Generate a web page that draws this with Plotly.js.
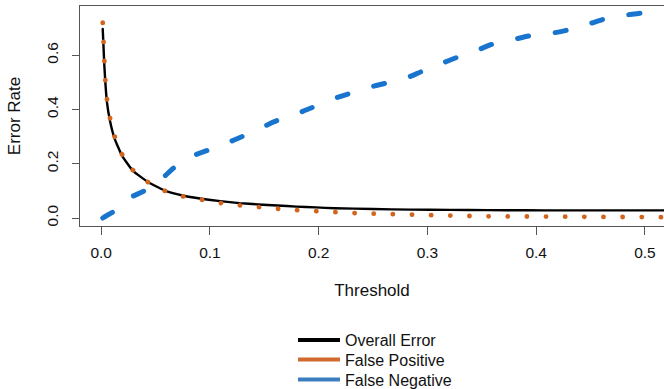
<!DOCTYPE html>
<html><head><meta charset="utf-8">
<script src="https://cdn.plot.ly/plotly-3.0.1.min.js"></script>
<style>
html,body{margin:0;padding:0;background:#fff;}
#chart{width:664px;height:389px;}
.scatterlayer .js-line{stroke-linecap:round;}
</style></head><body><div id="chart"></div>
<script>
// False positive rate (orange dotted)
const fpThreshold = [0.0014,0.0017,0.0029,0.0038,0.0053,0.0081,0.0124,0.0191,0.0290,0.0428,0.0580,0.0749,0.0920,0.1095,0.1270,0.1444,0.1619,0.1794,0.1972,0.2147,0.2322,0.2499,0.2674,0.2848,0.3023,0.3201,0.3379,0.3554,0.3728,0.3903,0.4081,0.4255,0.4430,0.4607,0.4782,0.4960,0.5135,0.5300];
const fpRate = [0.7201,0.6490,0.5789,0.5088,0.4388,0.3687,0.2998,0.2349,0.1770,0.1327,0.1007,0.0800,0.0664,0.0553,0.0468,0.0395,0.0343,0.0295,0.0247,0.0221,0.0184,0.0159,0.0136,0.0111,0.0100,0.0085,0.0074,0.0063,0.0055,0.0048,0.0037,0.0037,0.0037,0.0026,0.0026,0.0026,0.0026,0.0026];
// Overall error (black solid)
const overallThreshold = [0.0014,0.0029,0.0053,0.0081,0.0124,0.0191,0.0290,0.0428,0.0580,0.0749,0.0920,0.1095,0.1270,0.1444,0.1619,0.1794,0.1972,0.2147,0.2499,0.2848,0.3201,0.3554,0.3903,0.4255,0.4607,0.4960,0.5300];
const overallError = [0.697,0.561,0.426,0.358,0.292,0.230,0.175,0.133,0.102,0.083,0.071,0.062,0.055,0.050,0.046,0.042,0.039,0.036,0.033,0.031,0.030,0.029,0.0285,0.028,0.028,0.028,0.028];
// False negative rate (blue dashed)
const fnThreshold = [0.0014,0.0044,0.0111,0.0271,0.0394,0.0562,0.0663,0.0838,0.0970,0.1163,0.1292,0.1490,0.1614,0.1807,0.1935,0.2122,0.2269,0.2465,0.2612,0.2803,0.2943,0.3134,0.3274,0.3462,0.3602,0.3798,0.3945,0.4142,0.4289,0.4482,0.4629,0.4825,0.4972,0.5165];
const fnRate = [0.000,0.0074,0.0232,0.0763,0.0996,0.1464,0.1833,0.2286,0.2482,0.2777,0.2998,0.3366,0.3588,0.3861,0.4067,0.4377,0.4572,0.4819,0.4967,0.5162,0.5395,0.5704,0.5926,0.6195,0.6416,0.6589,0.6722,0.6811,0.6932,0.7153,0.7338,0.7485,0.7566,0.7790];

const seriesNames = ['Overall Error','False Positive','False Negative'];
const xTickVals = [0,0.1,0.2,0.3,0.4,0.5];
const xTickText = ['0.0','0.1','0.2','0.3','0.4','0.5'];
const yTickVals = [0,0.2,0.4,0.6];
const yTickText = ['0.0','0.2','0.4','0.6'];

const FONT = 'Liberation Sans, Arial, Helvetica, sans-serif';
const cBlack = '#000000', cOrange = '#D2651E', cBlue = '#1874CD';

const traces = [
  {x: overallThreshold, y: overallError, mode:'lines', name: seriesNames[0], showlegend:false,
   line:{color:cBlack, width:2.4, shape:'spline', smoothing:0.4}},
  {x: fnThreshold, y: fnRate, mode:'lines', name: seriesNames[2], showlegend:false,
   line:{color:cBlue, width:5, dash:'11px,27px', shape:'spline', smoothing:0.6}},
  {x: fpThreshold, y: fpRate, mode:'lines', name: seriesNames[1], showlegend:false,
   line:{color:cOrange, width:4.8, dash:'0.1px,19.05px'}},
  // legend keys, one legend per row
  {x:[null], y:[null], mode:'lines', name: seriesNames[0], legend:'legend', line:{color:'#000000', width:4}},
  {x:[null], y:[null], mode:'lines', name: seriesNames[1], legend:'legend2', line:{color:'#D06A2E', width:4}},
  {x:[null], y:[null], mode:'lines', name: seriesNames[2], legend:'legend3', line:{color:'#3B7EC0', width:4}}
];

const axisCommon = {
  showgrid:false, zeroline:false, showline:true, linecolor:'#555', linewidth:1,
  ticks:'outside', tickcolor:'#555', tickwidth:1, automargin:true,
  tickfont:{family:FONT, size:15.5, color:'#111'}, fixedrange:true
};

function legendAt(yPix){
  return {orientation:'h', xref:'container', yref:'container', x:293/664, xanchor:'left',
    y:1-yPix/389, yanchor:'middle', itemwidth:42, font:{family:FONT, size:16, color:'#111'},
    bgcolor:'rgba(0,0,0,0)', borderwidth:0};
}

const layout = {
  width:664, height:389,
  margin:{l:80, r:0, t:6, b:163, pad:0},
  paper_bgcolor:'#fff', plot_bgcolor:'#fff',
  font:{family:FONT, color:'#111'},
  xaxis: Object.assign({}, axisCommon, {
    range:[-0.0195, 0.5175], tickvals:xTickVals, ticktext:xTickText, ticklen:8,
    mirror:true, ticklabelstandoff:4,
    title:{text:'Threshold', font:{family:FONT, size:17, color:'#111'}, standoff:24}
  }),
  yaxis: Object.assign({}, axisCommon, {
    range:[-0.0295, 0.7817], tickvals:yTickVals, ticktext:yTickText, ticklen:7,
    tickangle:-90, mirror:false, ticklabelstandoff:8,
    title:{text:'Error Rate', font:{family:FONT, size:17, color:'#111'}, standoff:18}
  }),
  showlegend:true,
  legend: legendAt(340),
  legend2: legendAt(359.5),
  legend3: legendAt(379.5)
};

Plotly.newPlot('chart', traces, layout, {displayModeBar:false, staticPlot:true});
</script></body></html>
